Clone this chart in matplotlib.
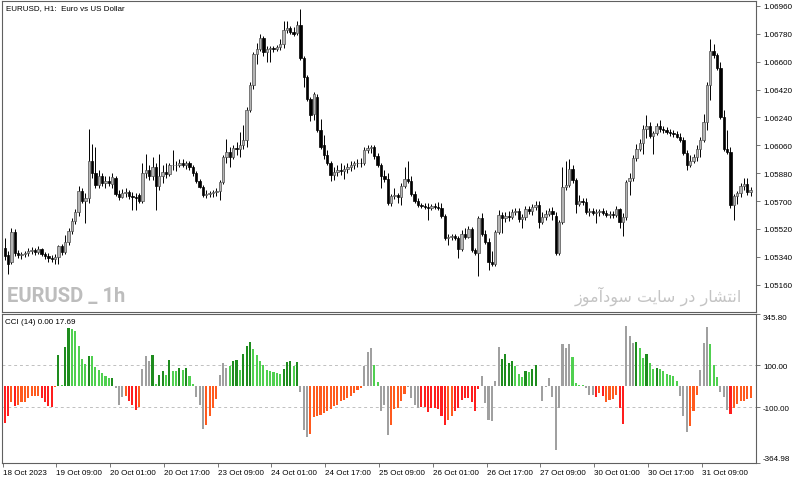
import numpy as np
import matplotlib
matplotlib.use("Agg")
import matplotlib.pyplot as plt

# EURUSD H1, 18 Oct 17:00 .. 31 Oct 23:00 (one value per bar)
OPEN = [
    1.05395, 1.05350, 1.05304, 1.05500, 1.05363, 1.05350, 1.05356, 1.05363, 1.05376, 1.05382,
    1.05369, 1.05389, 1.05356, 1.05343, 1.05330, 1.05324, 1.05337, 1.05408, 1.05369, 1.05434,
    1.05506, 1.05571, 1.05630, 1.05767, 1.05702, 1.05721, 1.05962, 1.05884, 1.05806, 1.05865,
    1.05819, 1.05832, 1.05813, 1.05852, 1.05747, 1.05728, 1.05754, 1.05760, 1.05734, 1.05728,
    1.05741, 1.05702, 1.05884, 1.05904, 1.05865, 1.05917, 1.05799, 1.05865, 1.05891, 1.05878,
    1.05930, 1.05930, 1.05936, 1.05949, 1.05936, 1.05943, 1.05917, 1.05884, 1.05832, 1.05793,
    1.05741, 1.05747, 1.05754, 1.05760, 1.05767, 1.05826, 1.05982, 1.06015, 1.05982, 1.06041,
    1.06034, 1.06060, 1.06093, 1.06288, 1.06451, 1.06647, 1.06680, 1.06751, 1.06660, 1.06680,
    1.06686, 1.06680, 1.06693, 1.06712, 1.06804, 1.06817, 1.06790, 1.06784, 1.06836, 1.06621,
    1.06504, 1.06360, 1.06262, 1.06373, 1.06158, 1.06060, 1.05995, 1.05943, 1.05871, 1.05891,
    1.05904, 1.05897, 1.05910, 1.05917, 1.05930, 1.05943, 1.05949, 1.05943, 1.06028, 1.06041,
    1.06047, 1.05989, 1.05930, 1.05865, 1.05845, 1.05689, 1.05734, 1.05741, 1.05728, 1.05799,
    1.05845, 1.05832, 1.05747, 1.05702, 1.05676, 1.05669, 1.05663, 1.05656, 1.05669, 1.05663,
    1.05656, 1.05604, 1.05460, 1.05467, 1.05473, 1.05460, 1.05389, 1.05487, 1.05467, 1.05519,
    1.05382, 1.05363, 1.05591, 1.05487, 1.05434, 1.05310, 1.05297, 1.05500, 1.05610, 1.05591,
    1.05604, 1.05597, 1.05630, 1.05636, 1.05584, 1.05597, 1.05650, 1.05636, 1.05663, 1.05676,
    1.05565, 1.05597, 1.05617, 1.05636, 1.05604, 1.05363, 1.05565, 1.05793, 1.05806, 1.05910,
    1.05839, 1.05682, 1.05702, 1.05695, 1.05630, 1.05636, 1.05623, 1.05630, 1.05636, 1.05623,
    1.05610, 1.05617, 1.05610, 1.05650, 1.05565, 1.05597, 1.05832, 1.05852, 1.05976, 1.06034,
    1.06073, 1.06165, 1.06184, 1.06119, 1.06139, 1.06184, 1.06165, 1.06158, 1.06145, 1.06139,
    1.06132, 1.06112, 1.06093, 1.06008, 1.05936, 1.05962, 1.05982, 1.06034, 1.06093, 1.06210,
    1.06451, 1.06667, 1.06641, 1.06562, 1.06243, 1.06034, 1.06015, 1.05676, 1.05734, 1.05754,
    1.05799, 1.05813, 1.05760,
]
HIGH = [
    1.05460, 1.05376, 1.05526, 1.05519, 1.05382, 1.05369, 1.05376, 1.05395, 1.05402, 1.05395,
    1.05408, 1.05395, 1.05369, 1.05363, 1.05350, 1.05356, 1.05415, 1.05421, 1.05480, 1.05526,
    1.05591, 1.05650, 1.05799, 1.05786, 1.05754, 1.06165, 1.06067, 1.06047, 1.05904, 1.05884,
    1.05865, 1.05865, 1.05884, 1.05865, 1.05773, 1.05780, 1.05786, 1.05773, 1.05760, 1.05754,
    1.05754, 1.05949, 1.06002, 1.05930, 1.05982, 1.05949, 1.06002, 1.05930, 1.05943, 1.05949,
    1.06028, 1.05962, 1.05969, 1.05969, 1.05962, 1.05956, 1.05936, 1.05897, 1.05845, 1.05806,
    1.05773, 1.05767, 1.05773, 1.05786, 1.05839, 1.05995, 1.06099, 1.06047, 1.06060, 1.06080,
    1.06145, 1.06191, 1.06308, 1.06471, 1.06660, 1.06719, 1.06777, 1.06764, 1.06699, 1.06699,
    1.06699, 1.06706, 1.06745, 1.06862, 1.06862, 1.06830, 1.06823, 1.06862, 1.06940, 1.06634,
    1.06517, 1.06373, 1.06406, 1.06393, 1.06230, 1.06125, 1.06028, 1.05962, 1.05917, 1.05930,
    1.05943, 1.05936, 1.05943, 1.05956, 1.05962, 1.05969, 1.05976, 1.06047, 1.06060, 1.06060,
    1.06060, 1.06008, 1.05949, 1.05904, 1.05884, 1.05747, 1.05786, 1.05754, 1.05819, 1.05917,
    1.05962, 1.05865, 1.05767, 1.05721, 1.05689, 1.05689, 1.05689, 1.05682, 1.05689, 1.05695,
    1.05689, 1.05617, 1.05487, 1.05487, 1.05487, 1.05473, 1.05513, 1.05526, 1.05539, 1.05532,
    1.05395, 1.05604, 1.05623, 1.05513, 1.05460, 1.05376, 1.05513, 1.05643, 1.05630, 1.05630,
    1.05636, 1.05650, 1.05656, 1.05656, 1.05617, 1.05669, 1.05669, 1.05682, 1.05702, 1.05702,
    1.05630, 1.05643, 1.05656, 1.05663, 1.05630, 1.05578, 1.05917, 1.05962, 1.05969, 1.05930,
    1.05852, 1.05741, 1.05721, 1.05721, 1.05656, 1.05656, 1.05650, 1.05650, 1.05656, 1.05643,
    1.05636, 1.05636, 1.05669, 1.05656, 1.05623, 1.05839, 1.05884, 1.05995, 1.06067, 1.06099,
    1.06191, 1.06256, 1.06210, 1.06152, 1.06204, 1.06223, 1.06184, 1.06178, 1.06165, 1.06158,
    1.06152, 1.06139, 1.06112, 1.06028, 1.05995, 1.06002, 1.06060, 1.06112, 1.06262, 1.06471,
    1.06745, 1.06712, 1.06654, 1.06601, 1.06288, 1.06158, 1.06047, 1.05747, 1.05767, 1.05819,
    1.05852, 1.05852, 1.05793,
]
LOW = [
    1.05317, 1.05232, 1.05291, 1.05343, 1.05330, 1.05324, 1.05337, 1.05343, 1.05356, 1.05350,
    1.05356, 1.05343, 1.05324, 1.05310, 1.05304, 1.05297, 1.05297, 1.05350, 1.05356, 1.05415,
    1.05487, 1.05552, 1.05604, 1.05689, 1.05558, 1.05689, 1.05852, 1.05786, 1.05786, 1.05799,
    1.05786, 1.05799, 1.05786, 1.05734, 1.05708, 1.05721, 1.05728, 1.05715, 1.05643, 1.05643,
    1.05689, 1.05689, 1.05852, 1.05839, 1.05839, 1.05643, 1.05773, 1.05819, 1.05852, 1.05865,
    1.05904, 1.05897, 1.05917, 1.05917, 1.05910, 1.05904, 1.05865, 1.05819, 1.05786, 1.05728,
    1.05721, 1.05728, 1.05728, 1.05734, 1.05708, 1.05813, 1.05949, 1.05917, 1.05969, 1.05995,
    1.05982, 1.06034, 1.06047, 1.06275, 1.06425, 1.06588, 1.06667, 1.06634, 1.06601, 1.06601,
    1.06660, 1.06667, 1.06673, 1.06686, 1.06784, 1.06777, 1.06764, 1.06771, 1.06608, 1.06438,
    1.06347, 1.06217, 1.06223, 1.06145, 1.06034, 1.05969, 1.05930, 1.05832, 1.05839, 1.05865,
    1.05871, 1.05845, 1.05884, 1.05897, 1.05910, 1.05917, 1.05917, 1.05930, 1.06008, 1.06008,
    1.05969, 1.05917, 1.05786, 1.05826, 1.05676, 1.05669, 1.05715, 1.05689, 1.05676, 1.05786,
    1.05819, 1.05734, 1.05689, 1.05663, 1.05656, 1.05650, 1.05578, 1.05643, 1.05650, 1.05643,
    1.05591, 1.05447, 1.05415, 1.05447, 1.05447, 1.05330, 1.05376, 1.05454, 1.05460, 1.05369,
    1.05350, 1.05219, 1.05473, 1.05421, 1.05252, 1.05278, 1.05278, 1.05487, 1.05493, 1.05565,
    1.05571, 1.05584, 1.05610, 1.05565, 1.05526, 1.05578, 1.05617, 1.05610, 1.05643, 1.05526,
    1.05552, 1.05578, 1.05604, 1.05578, 1.05350, 1.05350, 1.05552, 1.05773, 1.05793, 1.05819,
    1.05623, 1.05669, 1.05676, 1.05617, 1.05604, 1.05610, 1.05558, 1.05604, 1.05610, 1.05597,
    1.05591, 1.05591, 1.05597, 1.05526, 1.05473, 1.05578, 1.05741, 1.05832, 1.05962, 1.06021,
    1.06002, 1.06106, 1.06106, 1.06002, 1.06125, 1.06145, 1.06139, 1.06132, 1.06119, 1.06112,
    1.06106, 1.06080, 1.05995, 1.05904, 1.05923, 1.05943, 1.05956, 1.05982, 1.06080, 1.06158,
    1.06354, 1.06621, 1.06549, 1.06230, 1.06021, 1.06002, 1.05656, 1.05578, 1.05682, 1.05728,
    1.05773, 1.05741, 1.05734,
]
CLOSE = [
    1.05343, 1.05297, 1.05500, 1.05363, 1.05350, 1.05356, 1.05363, 1.05376, 1.05382, 1.05369,
    1.05389, 1.05356, 1.05343, 1.05330, 1.05324, 1.05337, 1.05408, 1.05369, 1.05434, 1.05506,
    1.05571, 1.05630, 1.05767, 1.05702, 1.05721, 1.05962, 1.05884, 1.05806, 1.05865, 1.05819,
    1.05832, 1.05819, 1.05858, 1.05747, 1.05728, 1.05754, 1.05760, 1.05734, 1.05728, 1.05721,
    1.05702, 1.05884, 1.05904, 1.05865, 1.05917, 1.05799, 1.05865, 1.05891, 1.05878, 1.05930,
    1.05936, 1.05936, 1.05949, 1.05936, 1.05943, 1.05917, 1.05884, 1.05832, 1.05793, 1.05741,
    1.05747, 1.05754, 1.05760, 1.05767, 1.05826, 1.05982, 1.06015, 1.05982, 1.06041, 1.06034,
    1.06060, 1.06093, 1.06288, 1.06451, 1.06647, 1.06680, 1.06751, 1.06660, 1.06680, 1.06686,
    1.06680, 1.06693, 1.06712, 1.06804, 1.06817, 1.06790, 1.06777, 1.06836, 1.06621, 1.06504,
    1.06360, 1.06256, 1.06393, 1.06158, 1.06047, 1.05995, 1.05943, 1.05871, 1.05891, 1.05904,
    1.05897, 1.05910, 1.05917, 1.05930, 1.05943, 1.05949, 1.05943, 1.06028, 1.06041, 1.06047,
    1.05989, 1.05930, 1.05865, 1.05845, 1.05689, 1.05734, 1.05741, 1.05728, 1.05799, 1.05845,
    1.05832, 1.05747, 1.05702, 1.05676, 1.05669, 1.05663, 1.05656, 1.05669, 1.05663, 1.05656,
    1.05604, 1.05460, 1.05467, 1.05473, 1.05460, 1.05389, 1.05487, 1.05467, 1.05519, 1.05382,
    1.05363, 1.05591, 1.05487, 1.05434, 1.05310, 1.05297, 1.05500, 1.05610, 1.05591, 1.05604,
    1.05597, 1.05630, 1.05636, 1.05584, 1.05597, 1.05650, 1.05636, 1.05663, 1.05676, 1.05565,
    1.05597, 1.05617, 1.05636, 1.05617, 1.05363, 1.05565, 1.05793, 1.05806, 1.05910, 1.05839,
    1.05682, 1.05702, 1.05695, 1.05630, 1.05636, 1.05623, 1.05630, 1.05636, 1.05623, 1.05610,
    1.05617, 1.05610, 1.05650, 1.05565, 1.05597, 1.05826, 1.05852, 1.05976, 1.06034, 1.06073,
    1.06165, 1.06184, 1.06119, 1.06139, 1.06184, 1.06165, 1.06158, 1.06145, 1.06139, 1.06132,
    1.06112, 1.06093, 1.06008, 1.05936, 1.05962, 1.05982, 1.06034, 1.06093, 1.06210, 1.06451,
    1.06667, 1.06641, 1.06562, 1.06243, 1.06034, 1.06015, 1.05676, 1.05734, 1.05754, 1.05799,
    1.05813, 1.05760, 1.05773,
]

CCI = [
    -176, -144, -77, -96, -88, -77, -74, -56, -48, -45,
    -45, -56, -77, -96, -99, -5, 151, 4, 187, 279,
    273, 266, 191, 132, 107, 146, 144, 94, 80, 64,
    48, 41, 40, -8, -88, -51, -45, -72, -88, -112,
    -101, 83, 144, 120, 149, 13, 56, 75, 56, 128,
    75, 75, 88, 80, 88, 48, 13, -51, -88, -203,
    -184, -144, -104, -61, 53, 109, 88, 96, 120, 125,
    80, 155, 192, 213, 179, 150, 120, 100, 80, 72,
    66, 62, 58, 83, 117, 120, 96, 115, -27, -208,
    -245, -227, -147, -144, -136, -128, -120, -109, -96, -88,
    -72, -67, -56, -45, -32, -19, -10, 99, 163, 181,
    104, 19, -120, -88, -232, -184, -109, -104, -72, -35,
    -5, -56, -88, -104, -99, -101, -125, -104, -106, -109,
    -141, -184, -160, -141, -120, -104, -67, -56, -56, -77,
    -120, -11, 48, -80, -160, -168, 24, 189, 131, 152,
    112, 120, 96, 61, 43, 72, 67, 83, 104, 3,
    -72, -3, 40, -51, -304, -104, 200, 184, 203, 141,
    16, 8, 8, -8, -40, -40, -51, -32, -45, -75,
    -67, -61, -40, -104, -181, 288, 240, 208, 211, 184,
    133, 152, 112, 83, 88, 83, 72, 61, 53, 48,
    24, -45, -144, -221, -189, -120, -40, 77, 208, 285,
    200, 104, 45, -29, -51, -112, -131, -104, -83, -72,
    -69, -61, -56,
]
# R red, O orange-red, D dark green, L light green, G gray
CCI_STATE = (
    "RROROOOOOO" "ORRRRODLDD" "LLLLLDLLLL" "LLDGGGORRR" "OGGGDLDDLD"
    "LLDLDLLGGG" "OOOOGGGLDD" "LDDDLLLLLL" "LLLDDDLDGG" "GOOOOOOOOO"
    "OOOOOOOGGG" "LLGGGOOOOO" "GGGGRRRRRR" "RROORRRRRR" "RRGGGGGGDD"
    "DDLLLDLDDL" "GGGGGGGGGL" "LLLGGGRORO" "OOORRGGGDL" "LDLLDLLLLL"
    "LGGGOOOGGG" "LLLGGGROOO" "OOO"
)

TIME_TICK_BARS = [0, 16, 32, 48, 64, 80, 96, 112, 128, 144, 160, 176, 192, 208]
TIME_TICK_LABELS = [
    "18 Oct 2023", "19 Oct 09:00", "20 Oct 01:00", "20 Oct 17:00",
    "23 Oct 09:00", "24 Oct 01:00", "24 Oct 17:00", "25 Oct 09:00",
    "26 Oct 01:00", "26 Oct 17:00", "27 Oct 09:00", "30 Oct 01:00",
    "30 Oct 17:00", "31 Oct 09:00",
]
PRICE_TICKS = [1.06960, 1.06780, 1.06600, 1.06420, 1.06240, 1.06060,
               1.05880, 1.05700, 1.05520, 1.05340, 1.05160]
CCI_LEVELS = [100.0, -100.0]
CCI_MAX, CCI_MIN = 345.80, -364.98

STATE_COLORS = {
    "R": "#ff1e1e",
    "O": "#ff5a1e",
    "D": "#1e8c1e",
    "L": "#50d050",
    "G": "#a0a0a0",
}

# "انتشار در سایت سودآموز" in presentation forms, visual order
WATERMARK_FA = ("\ufeaf\ufeee\ufee3\ufe81\ufea9\ufeee\ufeb3 "
                "\ufe96\ufbfe\ufe8e\ufeb3 \ufead\ufea9 "
                "\ufead\ufe8e\ufeb8\ufe98\ufee7\ufe8d")

W, H = 800, 481


def fx(px):
    return px / W


def fy(py):
    return 1 - py / H


def main():
    plt.rcParams["font.family"] = ["Liberation Sans", "DejaVu Sans"]

    o = np.array(OPEN)
    h = np.array(HIGH)
    l = np.array(LOW)
    c = np.array(CLOSE)
    x = np.arange(len(c))
    up = c >= o

    fig = plt.figure(figsize=(W / 100, H / 100), dpi=100)
    ax = fig.add_axes([fx(2), fy(313), fx(754), 311 / H])
    ax2 = fig.add_axes([fx(2), fy(463.5), fx(754), 148.5 / H])

    frame = "#606060"
    for a in (ax, ax2):
        a.set_xlim(-0.8, 223.6)
        for s in a.spines.values():
            s.set_color(frame)
            s.set_linewidth(0.8)

    # candles
    ax.vlines(x, l, h, color="black", linewidth=0.7, zorder=1)
    body = np.maximum(np.abs(c - o), 0.00002)
    ax.bar(x[up], body[up], bottom=o[up], width=0.7, color="#b4b4b4",
           edgecolor="#505050", linewidth=0.5, zorder=2)
    ax.bar(x[~up], body[~up], bottom=c[~up], width=0.7, color="black",
           edgecolor="black", linewidth=0.5, zorder=2)

    ax.set_ylim(1.04984, 1.06992)
    ax.set_xticks([])
    ax.yaxis.tick_right()
    ax.set_yticks(PRICE_TICKS)
    ax.set_yticklabels([f"{v:.5f}" for v in PRICE_TICKS])
    ax.tick_params(axis="y", direction="out", length=3, width=0.6,
                   labelsize=5.8, pad=2, color=frame)

    # CCI histogram
    colors = [STATE_COLORS[s] for s in CCI_STATE]
    ax2.bar(x, CCI, width=0.62, color=colors, linewidth=0, zorder=2)
    for lvl in CCI_LEVELS:
        ax2.axhline(lvl, color="#c0c0c0", linewidth=0.7,
                    linestyle=(0, (3, 3)), zorder=1)
    ax2.set_ylim(CCI_MIN, CCI_MAX)
    ax2.yaxis.tick_right()
    cci_ticks = [CCI_MAX, 100.0, -100.0, CCI_MIN]
    ax2.set_yticks(cci_ticks)
    ax2.set_yticklabels([f"{v:.2f}" for v in cci_ticks])
    ax2.tick_params(axis="y", direction="out", length=3, width=0.6,
                    labelsize=5.8, pad=2, color=frame)
    ticklabels = ax2.get_yticklabels()
    ticklabels[0].set_va("top")
    ticklabels[-1].set_va("bottom")

    ax2.set_xticks([b - 0.6 for b in TIME_TICK_BARS])
    ax2.set_xticklabels(TIME_TICK_LABELS, ha="left")
    ax2.tick_params(axis="x", direction="out", length=3, width=0.6,
                    labelsize=5.8, pad=1.5, color=frame)

    # texts
    fig.text(fx(6), fy(8.5), "EURUSD, H1:  Euro vs US Dollar",
             fontsize=5.8, va="center", ha="left")
    fig.text(fx(5), fy(322.5), "CCI (14) 0.00 17.69",
             fontsize=5.8, va="center", ha="left")
    fig.text(fx(7), fy(297), "EURUSD _ 1h", family=["Roboto", "DejaVu Sans"],
             weight="bold", fontsize=14.5, color="#bdbdbd",
             va="center", ha="left")
    fig.text(fx(742), fy(296), WATERMARK_FA, family="DejaVu Sans",
             fontsize=11.5, color="#c4c4c4", va="center", ha="right")

    fig.savefig("out.png", dpi=100)
    plt.close(fig)


if __name__ == "__main__":
    main()
